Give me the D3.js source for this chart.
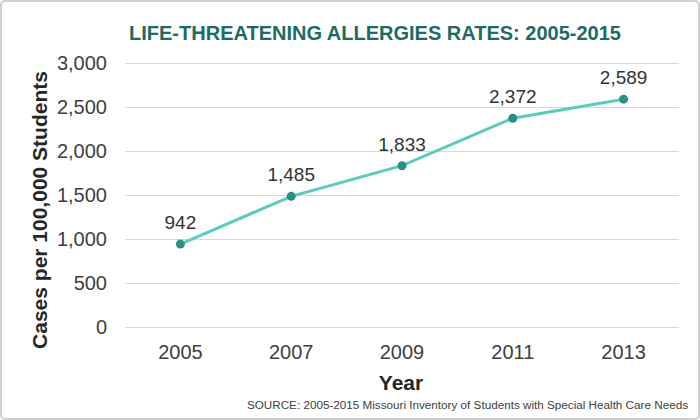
<!DOCTYPE html>
<html><head><meta charset="utf-8">
<script src="https://cdn.jsdelivr.net/npm/d3@7"></script>
<style>body{margin:0;background:#fff;}svg{display:block;font-family:"Liberation Sans",Arial,sans-serif;}</style>
</head><body>
<svg id="c" width="700" height="420"></svg>
<script>
const years = ["2005","2007","2009","2011","2013"];
const rates = [942,1485,1833,2372,2589];
const yTicks = [0,500,1000,1500,2000,2500,3000];
const title = "LIFE-THREATENING ALLERGIES RATES: 2005-2015";
const source = "SOURCE: 2005-2015 Missouri Inventory of Students with Special Health Care Needs";

const svg = d3.select("#c");
svg.append("rect").attr("x",1).attr("y",1).attr("width",698).attr("height",418)
  .attr("rx",4).attr("fill","#fff").attr("stroke","#cfcfcf").attr("stroke-width",2);

const m = {left:125,right:679,top:63,bottom:327};
const x = d3.scaleBand().domain(years).range([m.left,m.right]);
const y = d3.scaleLinear().domain([0,3000]).range([m.bottom,m.top]);

svg.append("text").attr("x",375).attr("y",40).attr("text-anchor","middle")
  .attr("font-size",20).attr("font-weight","bold").attr("fill","#1d6b62").text(title);

const yAxis = svg.append("g").attr("transform",`translate(${m.left},0)`)
  .call(d3.axisLeft(y).tickValues(yTicks).tickSize(-(m.right-m.left)).tickPadding(18).tickFormat(d3.format(",")));
yAxis.select(".domain").remove();
yAxis.selectAll("line").attr("stroke","#d9d9d9").attr("stroke-width",1);
yAxis.selectAll("text").attr("font-size",20).attr("fill","#404040").attr("font-family","Liberation Sans, Arial, sans-serif");

const xAxis = svg.append("g").attr("transform",`translate(0,${m.bottom})`)
  .call(d3.axisBottom(x).tickSize(0).tickPadding(18));
xAxis.select(".domain").remove();
xAxis.selectAll("text").attr("font-size",20).attr("fill","#404040").attr("font-family","Liberation Sans, Arial, sans-serif");

const pts = years.map((yr,i)=>({yr,v:rates[i]}));
svg.append("path").datum(pts)
  .attr("d",d3.line().x(d=>x(d.yr)+x.bandwidth()/2).y(d=>y(d.v)))
  .attr("fill","none").attr("stroke","#5ccbc0").attr("stroke-width",3);
svg.selectAll("circle.pt").data(pts).join("circle").attr("class","pt")
  .attr("cx",d=>x(d.yr)+x.bandwidth()/2).attr("cy",d=>y(d.v)).attr("r",4.5).attr("fill","#2b8f85");
svg.selectAll("text.lbl").data(pts).join("text").attr("class","lbl")
  .attr("x",d=>x(d.yr)+x.bandwidth()/2).attr("y",d=>y(d.v)-15).attr("text-anchor","middle")
  .attr("font-size",19).attr("fill","#333").text(d=>d3.format(",")(d.v));

svg.append("text").attr("x",401).attr("y",390).attr("text-anchor","middle")
  .attr("font-size",21).attr("font-weight","bold").attr("fill","#262626").text("Year");
svg.append("text").attr("transform","translate(47,210) rotate(-90)").attr("text-anchor","middle")
  .attr("font-size",21).attr("font-weight","bold").attr("fill","#262626").text("Cases per 100,000 Students");
svg.append("text").attr("x",688).attr("y",409).attr("text-anchor","end")
  .attr("font-size",11.7).attr("fill","#404040").text(source);
</script>
</body></html>
